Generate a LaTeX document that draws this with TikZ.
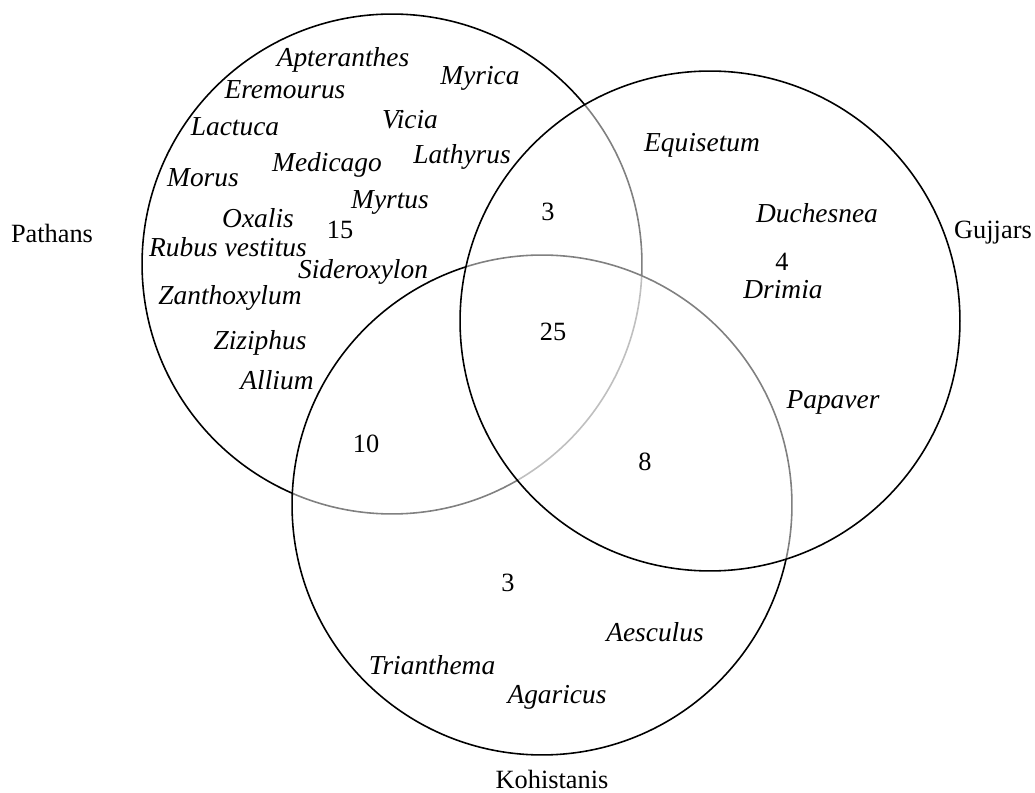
\documentclass[tikz,border=0pt]{standalone}
\usepackage{fontspec}
\setmainfont{Liberation Serif}
\usetikzlibrary{positioning}

\begin{document}
\begin{tikzpicture}[
  x=0.02cm,y=-0.02cm,
  setc/.style={circle,draw,line width=0.9pt,minimum size=10cm,inner sep=0pt},
  veil/.style={fill=white,fill opacity=0.5},
  taxon/.style={font=\fontsize{15.6}{18}\selectfont\itshape,inner sep=1pt},
  count/.style={font=\fontsize{15}{18}\selectfont,inner sep=1pt},
  grp/.style={font=\fontsize{15}{18}\selectfont,inner sep=1pt}
]
  \useasboundingbox (0,0) rectangle (1035,793);
  % the three sets, later ones veil the earlier outlines
  \node[setc] (pat) at (392,264) {};
  \node[setc,veil] (koh) at (542,505) {};
  \node[setc,veil] (guj) at (710,321) {};
  \node[grp] (patname) at (52,233) {Pathans};
  \node[grp] (gujname) at (993,233) {Gujjars};
  \node[grp] (kohname) at (552,779) {Kohistanis};
  % Pathans only
  \node[taxon] (apt) at (343,60) {Apteranthes};
  \node[taxon] (myr) at (480,78) {Myrica};
  \node[taxon] (ere) at (285,90) {Eremourus};
  \node[taxon] (vic) at (410,120) {Vicia};
  \node[taxon] (lac) at (235,127) {Lactuca};
  \node[taxon] (lat) at (462,157) {Lathyrus};
  \node[taxon] (med) at (327,165) {Medicago};
  \node[taxon] (mor) at (203,178) {Morus};
  \node[taxon] (myt) at (390,202) {Myrtus};
  \node[taxon] (oxa) at (258,218) {Oxalis};
  \node[count] (npat) at (340,230) {15};
  \node[taxon] (rub) at (228,247) {Rubus vestitus};
  \node[taxon] (sid) at (363,272) {Sideroxylon};
  \node[taxon] (zan) at (230,298) {Zanthoxylum};
  \node[taxon] (ziz) at (260,343) {Ziziphus};
  \node[taxon] (all) at (277,380) {Allium};
  % Gujjars only
  \node[taxon] (equ) at (702,145) {Equisetum};
  \node[taxon] (duc) at (817,213) {Duchesnea};
  \node[count] (nguj) at (782,262) {4};
  \node[taxon] (dri) at (783,290) {Drimia};
  \node[taxon] (pap) at (833,402) {Papaver};
  % Kohistanis only
  \node[count] (nkoh) at (508,583) {3};
  \node[taxon] (aes) at (655,632) {Aesculus};
  \node[taxon] (tri) at (432,665) {Trianthema};
  \node[taxon] (aga) at (557,697) {Agaricus};
  % overlaps
  \node[count] (npg) at (548,212) {3};
  \node[count] (nall) at (553,332) {25};
  \node[count] (npk) at (366,444) {10};
  \node[count] (ngk) at (645,462) {8};
\end{tikzpicture}
\end{document}
